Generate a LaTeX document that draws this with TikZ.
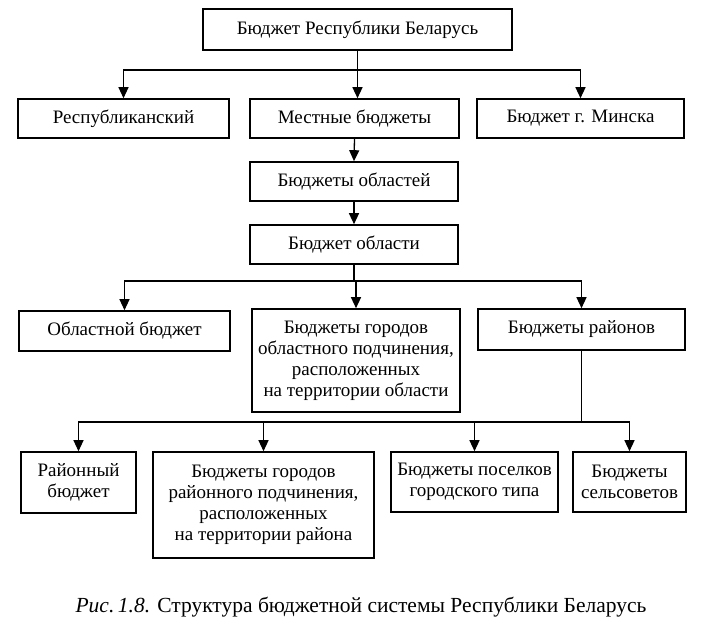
\documentclass[tikz,border=0pt]{standalone}
\usepackage{fontspec}
\setmainfont{Liberation Serif}
\usetikzlibrary{arrows.meta}
\begin{document}
\begin{tikzpicture}[x=1pt,y=-1pt,
  box/.style={draw,line width=1.6pt,inner sep=0pt,align=center,
    font=\fontsize{19}{21}\selectfont},
  link/.style={line width=1.3pt},
  arr/.style={line width=1.3pt,-{Triangle[width=10pt,length=11pt]}}]
\useasboundingbox (0,0) rectangle (702,644);
\fill[white] (0,0) rectangle (702,644);
% boxes
\node[box,minimum width=309pt,minimum height=41pt] (top) at (357.5,29.5) {Бюджет Республики Беларусь};
\node[box,minimum width=211pt,minimum height=39pt] (resp) at (123.5,118.5) {Республиканский};
\node[box,minimum width=209pt,minimum height=39pt] (mest) at (354.5,118.5) {Местные бюджеты};
\node[box,minimum width=207pt,minimum height=39pt] (minsk) at (580.5,118.5) {Бюджет г. Минска};
\node[box,minimum width=208pt,minimum height=39pt] (oblastey) at (354,181.5) {Бюджеты областей};
\node[box,minimum width=208pt,minimum height=39pt] (oblasti) at (354,244.5) {Бюджет области};
\node[box,minimum width=211pt,minimum height=40pt] (oblbud) at (124.5,331) {Областной бюджет};
\node[box,minimum width=208pt,minimum height=103pt] (gorobl) at (356,360.5) {Бюджеты городов\\областного подчинения,\\расположенных\\на территории области};
\node[box,minimum width=207pt,minimum height=41pt] (rayony) at (581.5,329.5) {Бюджеты районов};
\node[box,minimum width=115pt,minimum height=61pt] (raybud) at (78.5,482.5) {Районный\\бюджет};
\node[box,minimum width=221pt,minimum height=106pt] (gorray) at (263.5,505) {Бюджеты городов\\районного подчинения,\\расположенных\\на территории района};
\node[box,minimum width=167pt,minimum height=60pt] (pos) at (474.5,482) {Бюджеты поселков\\городского типа};
\node[box,minimum width=113pt,minimum height=60pt] (sel) at (629.5,482) {Бюджеты\\сельсоветов};
% junctions
\coordinate (j1) at (357.5,70);
\coordinate (j2) at (354,281);
\coordinate (j3) at (581.5,422);
% connectors
\draw[link] (top.south) -- (j1);
\draw[arr] (j1) -| (resp.north);
\draw[arr] (j1) -| (minsk.north);
\draw[arr] (j1) -- (mest.north -| j1);
\draw[arr] (mest.south) -- (oblastey.north);
\draw[arr] (oblastey.south) -- (oblasti.north);
\draw[link] (oblasti.south) -- (j2);
\draw[arr] (j2) -| (oblbud.north);
\draw[arr] (j2) -| (rayony.north);
\draw[arr] (j2) -| (gorobl.north);
\draw[link] (rayony.south) -- (j3);
\draw[arr] (j3) -| (raybud.north);
\draw[arr] (j3) -| (gorray.north);
\draw[arr] (j3) -| (pos.north);
\draw[arr] (j3) -| (sel.north);
% caption
\node[font=\fontsize{21.5}{24}\selectfont,anchor=base] (cap) at (361,612) {\textit{Рис.\,1.8.} Структура бюджетной системы Республики Беларусь};
\end{tikzpicture}
\end{document}
